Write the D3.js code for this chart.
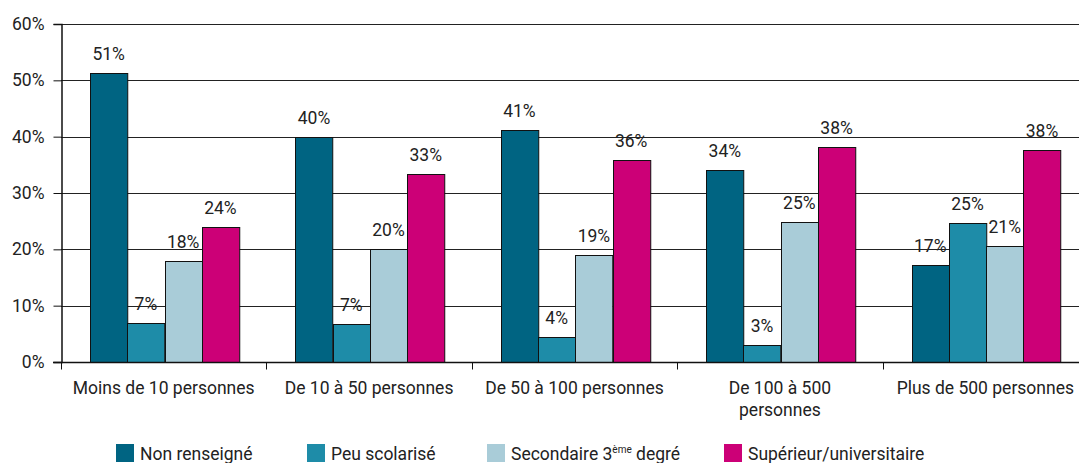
<!DOCTYPE html>
<head>
    <meta charset="utf-8">
    <title>Niveau de formation par taille d'entreprise</title>
    <script src="https://d3js.org/d3.v7.min.js"></script>
    <style>
        body { margin: 0; background: #fff; }
        text { font-family: Roboto, "Liberation Sans", sans-serif; fill: #222; }
    </style>
</head>
<body>
    <script>
        const categories = ["Moins de 10 personnes", "De 10 à 50 personnes", "De 50 à 100 personnes", "De 100 à 500 personnes", "Plus de 500 personnes"]
        const series = ["Non renseigné", "Peu scolarisé", "Secondaire 3ème degré", "Supérieur/universitaire"]
        const colors = ["#006482", "#1e8ca8", "#a9ccd8", "#cc0077"]

        const nonRenseigne = [51.3, 40.0, 41.1, 34.0, 17.2]
        const peuScolarise = [7.0, 6.7, 4.4, 3.0, 24.7]
        const secondaire = [18.0, 20.0, 19.0, 24.9, 20.6]
        const superieur = [23.9, 33.3, 35.8, 38.1, 37.7]
        const values = [nonRenseigne, peuScolarise, secondaire, superieur]

        const yTicks = [0, 10, 20, 30, 40, 50, 60]

        const width = 1079
        const height = 463
        const plotLeft = 61
        const plotTop = 24
        const plotBottom = 362
        const fs = "17.5px"

        const svg = d3.select("body").append("svg")
            .attr("width", width)
            .attr("height", height)

        const x = d3.scaleBand().domain(categories).range([plotLeft, 1088])
        const inner = d3.scaleBand().domain(series).range([29, 178])
        const y = d3.scaleLinear().domain([0, 60]).range([plotBottom, plotTop])

        // grid
        svg.append("g").selectAll("line")
            .data(yTicks.filter(d => d > 0))
            .join("line")
                .attr("x1", plotLeft).attr("x2", width)
                .attr("y1", d => Math.round(y(d)) + 0.5)
                .attr("y2", d => Math.round(y(d)) + 0.5)
                .attr("stroke", "#222")

        // bars
        const rows = []
        categories.forEach((c, i) => series.forEach((s, j) => rows.push({ c, s, j, v: values[j][i] })))

        svg.append("g").selectAll("rect")
            .data(rows)
            .join("rect")
                .attr("x", d => Math.round(x(d.c) + inner(d.s)) + 0.5)
                .attr("y", d => Math.round(y(d.v)) + 0.5)
                .attr("width", inner.bandwidth())
                .attr("height", d => Math.round(y(0)) - Math.round(y(d.v)))
                .attr("fill", d => colors[d.j])
                .attr("stroke", "#111")

        svg.append("g").selectAll("text")
            .data(rows)
            .join("text")
                .attr("x", d => x(d.c) + inner(d.s) + inner.bandwidth() / 2)
                .attr("y", d => y(d.v) - 13)
                .attr("text-anchor", "middle")
                .style("font-size", fs)
                .text(d => Math.round(d.v) + "%")

        // y axis
        const yAxis = svg.append("g")
            .attr("transform", `translate(${plotLeft + 0.5}, 0)`)
            .call(d3.axisLeft(y).tickValues(yTicks).tickSize(8).tickPadding(9).tickFormat(d => d + "%"))
        yAxis.select(".domain").attr("stroke", "#111").attr("stroke-width", 1.5)
        yAxis.selectAll("line").attr("stroke", "#111")
        yAxis.selectAll("text").style("font-size", fs).attr("fill", "#222")

        // x axis
        const xAxis = svg.append("g").attr("transform", `translate(0, ${Math.round(plotBottom) + 0.5})`)
        xAxis.append("line").attr("x1", plotLeft - 8).attr("x2", width).attr("stroke", "#111").attr("stroke-width", 1.5)
        xAxis.selectAll(".tk")
            .data(categories)
            .join("line")
                .attr("class", "tk")
                .attr("x1", d => Math.round(x(d)) + 0.5).attr("x2", d => Math.round(x(d)) + 0.5)
                .attr("y1", 0).attr("y2", 7)
                .attr("stroke", "#111")

        const catLines = { "De 100 à 500 personnes": ["De 100 à 500", "personnes"] }
        xAxis.selectAll(".cat")
            .data(categories)
            .join("text")
                .attr("class", "cat")
                .attr("text-anchor", "middle")
                .style("font-size", fs)
                .attr("x", d => x(d) + x.bandwidth() / 2)
                .attr("y", 31)
                .each(function(d) {
                    const parts = catLines[d] || [d]
                    d3.select(this).selectAll("tspan")
                        .data(parts)
                        .join("tspan")
                            .attr("x", x(d) + x.bandwidth() / 2)
                            .attr("dy", (p, k) => k === 0 ? 0 : 22)
                            .text(p => p)
                })

        // legend
        const legendX = [116, 307, 487, 724]
        const legend = svg.append("g").selectAll("g")
            .data(series)
            .join("g")
                .attr("transform", (d, i) => `translate(${legendX[i]}, 444)`)
        legend.append("rect")
            .attr("width", 18).attr("height", 18)
            .attr("fill", (d, i) => colors[i])
        legend.append("text")
            .attr("x", 24).attr("y", 16)
            .style("font-size", fs)
            .each(function(d) {
                const t = d3.select(this)
                if (d.includes("3ème")) {
                    const [a, b] = d.split("3ème")
                    t.append("tspan").text(a + "3")
                    t.append("tspan").attr("dy", -7).style("font-size", "10px").text("ème")
                    t.append("tspan").attr("dy", 7).text(b)
                } else {
                    t.text(d)
                }
            })
    </script>
</body>
